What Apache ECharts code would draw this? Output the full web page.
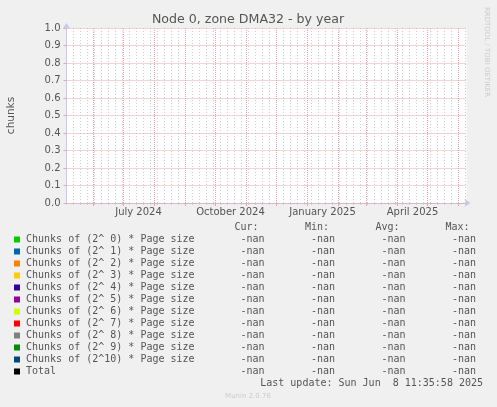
<!DOCTYPE html>
<html>
<head>
<meta charset="utf-8">
<script src="https://cdn.jsdelivr.net/npm/echarts@6/dist/echarts.min.js"></script>
<style>
  html, body { margin: 0; padding: 0; background: #f0f0f0; }
  #chart { width: 497px; height: 407px; }
</style>
</head>
<body>
<div id="chart"></div>
<script>
// ---- data ----
const titleText = 'Node 0, zone DMA32 - by year';
const yAxisTitle = 'chunks';
const startDate = '2024-05-05';
const dayCount = 400;
const yTicks = [0.0, 0.1, 0.2, 0.3, 0.4, 0.5, 0.6, 0.7, 0.8, 0.9, 1.0];
const tickLabelDates = ['2024-07-16', '2024-10-16', '2025-01-16', '2025-04-16'];
const tickLabels = ['July 2024', 'October 2024', 'January 2025', 'April 2025'];
const seriesNames = [
  'Chunks of (2^ 0) * Page size',
  'Chunks of (2^ 1) * Page size',
  'Chunks of (2^ 2) * Page size',
  'Chunks of (2^ 3) * Page size',
  'Chunks of (2^ 4) * Page size',
  'Chunks of (2^ 5) * Page size',
  'Chunks of (2^ 6) * Page size',
  'Chunks of (2^ 7) * Page size',
  'Chunks of (2^ 8) * Page size',
  'Chunks of (2^ 9) * Page size',
  'Chunks of (2^10) * Page size',
  'Total'
];
const seriesColors = ['#00cc00', '#0066b3', '#ff8000', '#ffcc00', '#330099', '#990099',
                      '#ccff00', '#ff0000', '#808080', '#008f00', '#00487d', '#000000'];
// all series have no data (-nan)
const seriesValues = [[], [], [], [], [], [], [], [], [], [], [], []];
const curValues = ['-nan', '-nan', '-nan', '-nan', '-nan', '-nan', '-nan', '-nan', '-nan', '-nan', '-nan', '-nan'];
const minValues = ['-nan', '-nan', '-nan', '-nan', '-nan', '-nan', '-nan', '-nan', '-nan', '-nan', '-nan', '-nan'];
const avgValues = ['-nan', '-nan', '-nan', '-nan', '-nan', '-nan', '-nan', '-nan', '-nan', '-nan', '-nan', '-nan'];
const maxValues = ['-nan', '-nan', '-nan', '-nan', '-nan', '-nan', '-nan', '-nan', '-nan', '-nan', '-nan', '-nan'];
const columnHeaders = ['Cur:', 'Min:', 'Avg:', 'Max:'];
const lastUpdate = 'Last update: Sun Jun  8 11:35:58 2025';
const sideText = 'RRDTOOL / TOBI OETIKER';
const footerText = 'Munin 2.0.76';

// ---- build day categories ----
const days = [];
const t0 = Date.parse(startDate + 'T00:00:00Z');
for (let i = 0; i <= dayCount; i++) {
  days.push(new Date(t0 + i * 86400000).toISOString().slice(0, 10));
}
const labelMap = {};
tickLabelDates.forEach((d, i) => { labelMap[d] = tickLabels[i]; });
const isSunday = (v) => new Date(v + 'T00:00:00Z').getUTCDay() === 0;
const isMonthStart = (v) => v.slice(8, 10) === '01';
const isWeekLine = (v) => isSunday(v) && !isMonthStart(v);

const textColor = '#555555';
const axisColor = '#c4c8f2';
const majorGrid = '#e9a6a6';
const minorGrid = '#cfcfcf';
const mono = '"DejaVu Sans Mono", monospace';
const sans = '"DejaVu Sans", sans-serif';

const chart = echarts.init(document.getElementById('chart'), null, { renderer: 'canvas' });

const graphics = [];
graphics.push({ type: 'text', x: 248, y: 19.5, style: { text: titleText, font: '12.6px ' + sans, fill: textColor, align: 'center', verticalAlign: 'middle' } });
graphics.push({ type: 'text', x: 11, y: 115.5, rotation: Math.PI / 2, style: { text: yAxisTitle, font: '10.5px ' + sans, fill: textColor, align: 'center', verticalAlign: 'middle' } });
graphics.push({ type: 'text', x: 487, y: 52, rotation: -Math.PI / 2, style: { text: sideText, font: '7px ' + sans, fill: '#cccccc', align: 'center', verticalAlign: 'middle' } });

const headerX = [258.5, 329, 399.5, 469.5];
const colX = [264.5, 335, 405.5, 476];
columnHeaders.forEach((h, i) => {
  graphics.push({ type: 'text', x: headerX[i], y: 227.5, style: { text: h, font: '10px ' + mono, fill: textColor, align: 'right', verticalAlign: 'middle' } });
});
seriesNames.forEach((name, i) => {
  const y = 239.5 + i * 12;
  graphics.push({ type: 'rect', shape: { x: 14, y: y - 3, width: 6, height: 6 }, style: { fill: seriesColors[i] } });
  graphics.push({ type: 'text', x: 26, y: y, style: { text: name, font: '10px ' + mono, fill: textColor, align: 'left', verticalAlign: 'middle' } });
  [curValues, minValues, avgValues, maxValues].forEach((arr, c) => {
    graphics.push({ type: 'text', x: colX[c], y: y, style: { text: arr[i], font: '10px ' + mono, fill: textColor, align: 'right', verticalAlign: 'middle' } });
  });
});
graphics.push({ type: 'text', x: 483, y: 383.5, style: { text: lastUpdate, font: '10px ' + mono, fill: textColor, align: 'right', verticalAlign: 'middle' } });
graphics.push({ type: 'text', x: 248, y: 396.5, style: { text: footerText, font: '7px ' + sans, fill: '#cccccc', align: 'center', verticalAlign: 'middle' } });

const option = {
  backgroundColor: '#f0f0f0',
  animation: false,
  grid: { left: 66.5, top: 28, width: 400, height: 175, show: true, backgroundColor: '#ffffff', borderWidth: 0 },
  xAxis: [
    {
      type: 'category', data: days, boundaryGap: false, position: 'bottom', z: 2,
      axisLine: { show: true, lineStyle: { color: axisColor, width: 1 }, symbol: ['none', 'arrow'], symbolSize: [6, 6], symbolOffset: [0, 4] },
      axisTick: { show: true, length: 2, interval: (i, v) => isWeekLine(v), lineStyle: { color: minorGrid } },
      axisLabel: { show: true, interval: (i, v) => !!labelMap[v], formatter: (v) => labelMap[v] || '', color: textColor, fontFamily: sans, fontSize: 10, margin: 4 },
      splitLine: { show: true, interval: (i, v) => isWeekLine(v), lineStyle: { color: minorGrid, type: [1, 2], width: 1 } }
    },
    {
      type: 'category', data: days, boundaryGap: false, position: 'bottom', z: 3,
      axisLine: { show: false },
      axisTick: { show: true, length: 3, interval: (i, v) => isMonthStart(v), lineStyle: { color: majorGrid } },
      axisLabel: { show: false },
      splitLine: { show: true, interval: (i, v) => isMonthStart(v), lineStyle: { color: majorGrid, type: [1, 1], width: 1 } }
    }
  ],
  yAxis: {
    type: 'value', min: 0, max: 1, interval: 0.1, z: 3,
    axisLine: { show: true, lineStyle: { color: axisColor, width: 1 }, symbol: ['none', 'arrow'], symbolSize: [6, 6], symbolOffset: [0, 5] },
    axisTick: { show: true, length: 3, lineStyle: { color: majorGrid } },
    axisLabel: { color: textColor, fontFamily: sans, fontSize: 10, margin: 6, formatter: (v) => v.toFixed(1) },
    splitLine: { show: true, lineStyle: { color: majorGrid, type: [1, 1], width: 1 } }
  },
  series: seriesNames.map((name, i) => ({
    name: name, type: 'line', xAxisIndex: 0, data: seriesValues[i],
    showSymbol: false, lineStyle: { color: seriesColors[i], width: 1 }, itemStyle: { color: seriesColors[i] }
  })),
  graphic: graphics
};
chart.setOption(option);
</script>
</body>
</html>
